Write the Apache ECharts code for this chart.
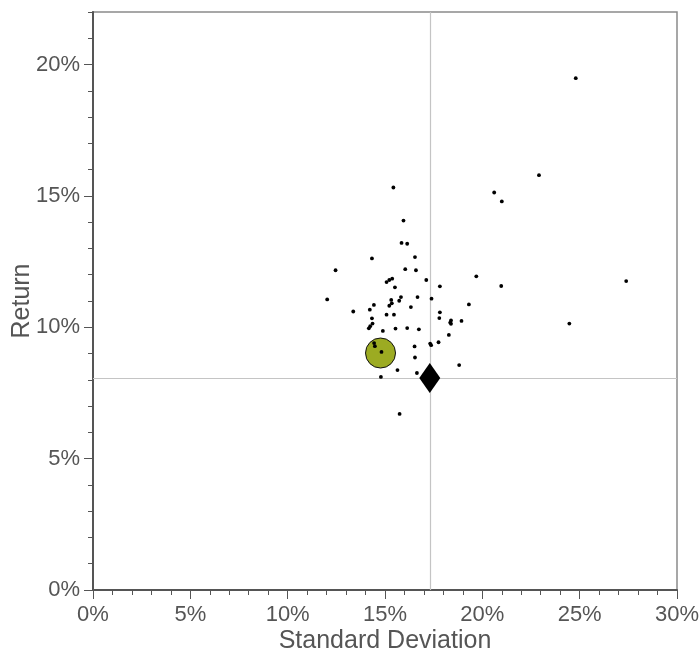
<!DOCTYPE html>
<html>
<head>
<meta charset="utf-8">
<script src="https://cdn.jsdelivr.net/npm/echarts@6/dist/echarts.min.js"></script>
<style>html,body{margin:0;padding:0;background:#fff;}#c{width:700px;height:658px;}</style>
</head>
<body>
<div id="c"></div>
<script>
// Standard deviation (%) of each fund
const stdDev = [24.8, 22.91, 20.61, 21.0, 19.69, 20.97, 27.39, 24.47, 15.43, 15.95,
  15.85, 16.14, 14.33, 16.54, 12.46, 16.04, 16.59, 15.08, 15.22, 15.37,
  17.12, 17.82, 15.51, 12.03, 15.82, 16.67, 17.39, 15.32, 15.35, 15.22,
  15.73, 14.43, 14.22, 19.31, 16.33, 13.37, 17.82, 15.08, 15.46, 14.33,
  17.79, 18.39, 18.35, 18.39, 18.93, 14.36, 14.24, 14.17, 14.89, 15.54,
  16.14, 16.74, 18.28, 14.44, 14.48, 16.52, 17.32, 17.37, 17.75, 14.82,
  16.54, 18.81, 15.64, 16.64, 14.79, 15.75];
// Return (%) of each fund
const returns = [19.48, 15.79, 15.13, 14.79, 11.94, 11.57, 11.76, 10.14, 15.32, 14.06,
  13.21, 13.18, 12.62, 12.67, 12.17, 12.21, 12.17, 11.72, 11.80, 11.85,
  11.80, 11.56, 11.52, 11.06, 11.15, 11.15, 11.09, 11.04, 10.91, 10.82,
  11.01, 10.85, 10.67, 10.87, 10.77, 10.60, 10.57, 10.48, 10.48, 10.34,
  10.35, 10.26, 10.18, 10.13, 10.24, 10.14, 10.04, 9.96, 9.86, 9.95,
  9.97, 9.92, 9.71, 9.40, 9.28, 9.27, 9.38, 9.32, 9.43, 9.06,
  8.85, 8.56, 8.37, 8.26, 8.11, 6.70];
// Highlighted portfolio (circle) and benchmark (diamond): [std dev, return]
const portfolio = [14.77, 9.02];
const benchmark = [17.3, 8.07];
// Axis ranges and tick labels
const xRange = [0, 30];
const yRange = [0, 22];
const yMajorTicks = [0, 5, 10, 15, 20];

const points = stdDev.map((s, i) => [s, returns[i]]);
const textColor = '#555';
const font = 'Liberation Sans, Arial, sans-serif';

const chart = echarts.init(document.getElementById('c'), null, {renderer: 'canvas'});
chart.setOption({
  animation: false,
  backgroundColor: '#fff',
  grid: {left: 93, right: 23, top: 12, bottom: 68, outerBoundsMode: 'none', containLabel: false,
    show: true, borderColor: '#8a8a8a', borderWidth: 1.5, backgroundColor: 'transparent'},
  xAxis: [{
    type: 'value', min: xRange[0], max: xRange[1], interval: 5,
    name: 'Standard Deviation', nameLocation: 'middle', nameGap: 39, nameMoveOverlap: false,
    nameTextStyle: {color: textColor, fontSize: 25, fontFamily: font},
    axisLine: {show: true, onZero: false, lineStyle: {color: '#555', width: 2}},
    axisTick: {show: true, length: 9, lineStyle: {color: '#555', width: 1}},
    minorTick: {show: true, splitNumber: 5, length: 5, lineStyle: {color: '#555', width: 1}},
    splitLine: {show: false},
    axisLabel: {color: textColor, fontSize: 22, fontFamily: font, margin: 14, formatter: v => v + '%'}
  }],
  yAxis: [{
    type: 'value', min: yRange[0], max: yRange[1], interval: 1, position: 'left',
    name: 'Return', nameLocation: 'middle', nameGap: 58, nameMoveOverlap: false,
    nameTextStyle: {color: textColor, fontSize: 25, fontFamily: font},
    axisLine: {show: true, onZero: false, lineStyle: {color: '#555', width: 2}},
    axisTick: {show: true, length: 5, lineStyle: {color: '#555', width: 1}},
    splitLine: {show: false},
    axisLabel: {color: textColor, fontSize: 22, fontFamily: font, margin: 13,
      formatter: v => (v % 5 === 0 && v <= 20) ? v + '%' : ''}
  }, {
    type: 'value', min: yRange[0], max: yRange[1], position: 'left', offset: 0,
    axisLine: {show: false},
    axisTick: {show: true, length: 9, customValues: yMajorTicks, lineStyle: {color: '#555', width: 1}},
    axisLabel: {show: false},
    splitLine: {show: false}
  }],
  series: [{
    type: 'scatter', name: 'crosshair', data: [], z: 1, silent: true,
    markLine: {
      silent: true, z: 1, symbol: ['none', 'none'], label: {show: false},
      lineStyle: {color: '#c4c4c4', width: 1.2, type: 'solid'},
      data: [{xAxis: benchmark[0]}, {yAxis: benchmark[1]}]
    }
  }, {
    type: 'scatter', name: 'portfolio', data: [portfolio], z: 2,
    symbol: 'circle', symbolSize: 30,
    itemStyle: {color: '#9cab22', borderColor: '#111', borderWidth: 1, opacity: 1}
  }, {
    type: 'scatter', name: 'funds', data: points, z: 3,
    symbol: 'circle', symbolSize: 3.8,
    itemStyle: {color: '#000', opacity: 1}
  }, {
    type: 'scatter', name: 'benchmark', data: [benchmark], z: 6,
    symbol: 'diamond', symbolSize: [21, 30],
    itemStyle: {color: '#000', opacity: 1}
  }]
});
</script>
</body>
</html>
